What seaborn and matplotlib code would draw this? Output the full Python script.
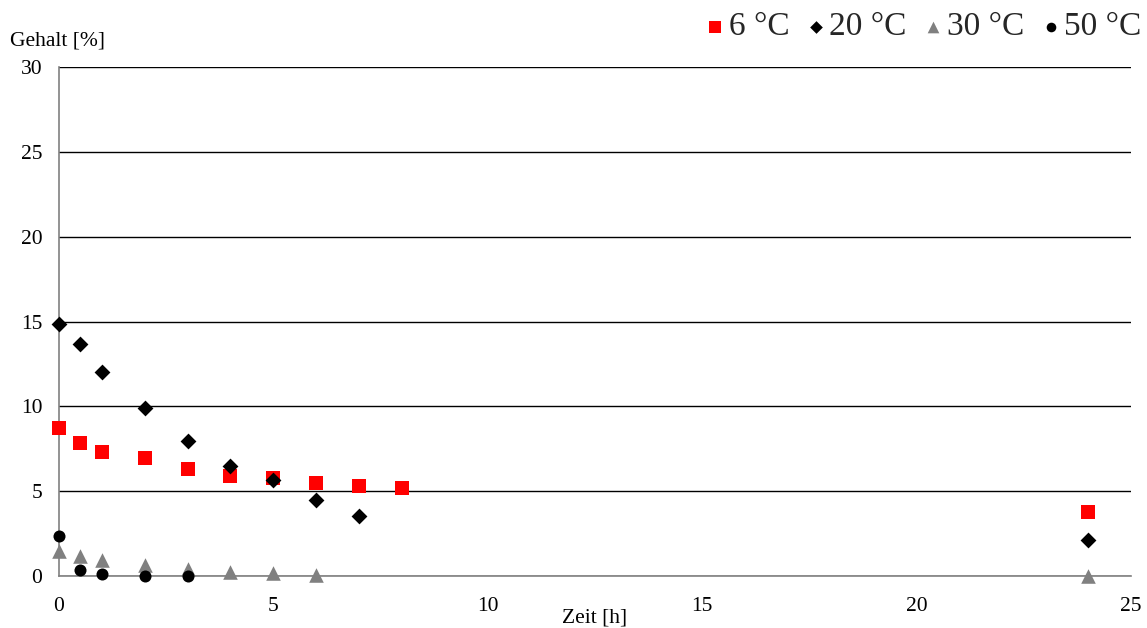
import matplotlib
matplotlib.use("Agg")
import matplotlib.pyplot as plt
import seaborn as sns
import pandas as pd

# Measured content over time for four storage temperatures
t_6 = [0, 0.5, 1, 2, 3, 4, 5, 6, 7, 8, 24]
v_6 = [8.72, 7.84, 7.31, 6.95, 6.3, 5.9, 5.78, 5.48, 5.3, 5.19, 3.77]

t_20 = [0, 0.5, 1, 2, 3, 4, 5, 6, 7, 24]
v_20 = [14.85, 13.67, 12.02, 9.9, 7.96, 6.48, 5.66, 4.48, 3.54, 2.12]

t_30 = [0, 0.5, 1, 2, 3, 4, 5, 6, 24]
v_30 = [1.45, 1.15, 0.95, 0.65, 0.4, 0.25, 0.15, 0.08, 0.0]

t_50 = [0, 0.5, 1, 2, 3]
v_50 = [2.36, 0.38, 0.1, 0.0, 0.0]

series_names = ["6 °C", "20 °C", "30 °C", "50 °C"]
x_ticks = [0, 5, 10, 15, 20, 25]
y_ticks = [0, 5, 10, 15, 20, 25, 30]

frames = []
for name, t, v in zip(series_names, [t_6, t_20, t_30, t_50], [v_6, v_20, v_30, v_50]):
    frames.append(pd.DataFrame({"Zeit": t, "Gehalt": v, "Temperatur": name}))
df = pd.concat(frames, ignore_index=True)

sns.set_theme(style="white")
plt.rcParams["font.family"] = ["Liberation Serif", "DejaVu Serif"]

fig = plt.figure(figsize=(11.47, 6.28), dpi=100)
ax = fig.add_axes([0.0514, 0.0828, 0.9346, 0.8105])

palette = {"6 °C": "#ff0000", "20 °C": "#000000", "30 °C": "#808080", "50 °C": "#000000"}
markers = {"6 °C": "s", "20 °C": "D", "30 °C": "^", "50 °C": "o"}
sizes = {"6 °C": 110, "20 °C": 65, "30 °C": 110, "50 °C": 75}

for name in series_names:
    sub = df[df["Temperatur"] == name]
    sns.scatterplot(data=sub, x="Zeit", y="Gehalt", color=palette[name],
                    marker=markers[name], s=sizes[name], linewidth=0,
                    ax=ax, label=name, clip_on=False, zorder=3)

ax.set_xlim(0, 25)
ax.set_ylim(0, 30)
ax.set_xticks(x_ticks)
ax.set_yticks(y_ticks)
ax.tick_params(axis="both", length=0, labelsize=15.5, colors="black")
ax.tick_params(axis="y", pad=12)
ax.tick_params(axis="x", pad=15)
ax.yaxis.grid(True, color="black", linewidth=1.0)
ax.xaxis.grid(False)
ax.set_axisbelow(True)

for side in ["top", "right"]:
    ax.spines[side].set_visible(False)
for side in ["left", "bottom"]:
    ax.spines[side].set_color("#808080")
    ax.spines[side].set_linewidth(1.2)

ax.set_xlabel("Zeit [h]", fontsize=15.5, color="black", labelpad=-5.5)
ax.set_ylabel("")
fig.text(0.009, 0.92, "Gehalt [%]", fontsize=15.5, color="black", ha="left", va="bottom")

if ax.legend_:
    ax.legend_.remove()
handles, labels = ax.get_legend_handles_labels()
leg = fig.legend(handles, labels, loc="upper right", bbox_to_anchor=(1.021, 1.029),
                 ncol=4, frameon=False, fontsize=24, handletextpad=-0.2,
                 columnspacing=0.2, markerscale=0.8, handlelength=1.2)

fig.savefig("out.png", dpi=100)
